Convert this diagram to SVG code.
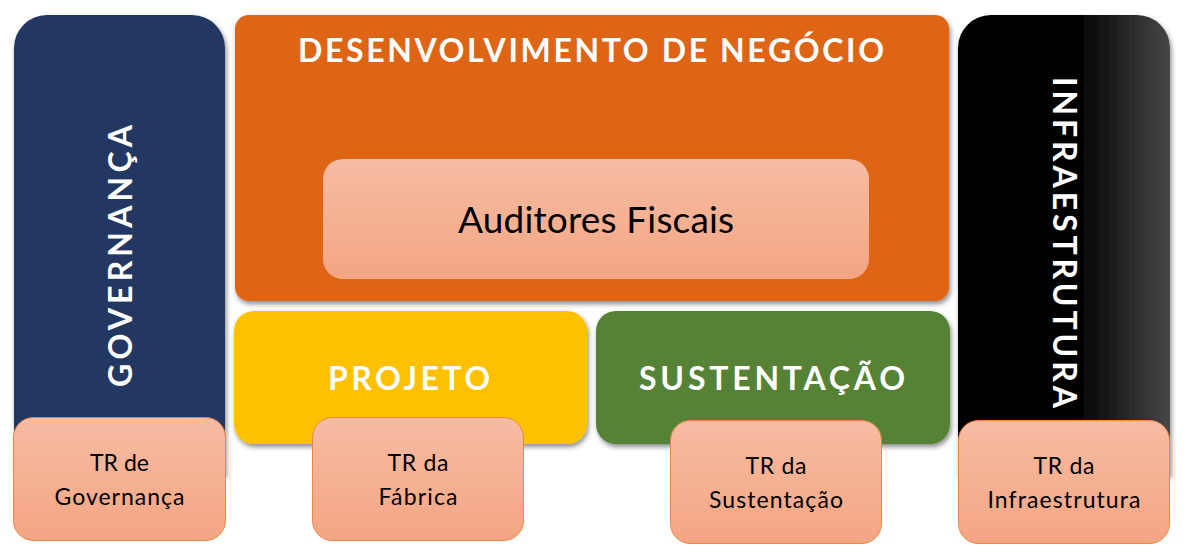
<svg xmlns="http://www.w3.org/2000/svg" width="1189" height="559" viewBox="0 0 1189 559">
<defs>
  <filter id="sh" x="-10%" y="-10%" width="120%" height="125%">
    <feDropShadow dx="1.5" dy="3" stdDeviation="2.5" flood-color="#000" flood-opacity="0.45"/>
  </filter>
  <linearGradient id="peach" x1="0" y1="0" x2="0" y2="1">
    <stop offset="0" stop-color="#F6BCA3"/>
    <stop offset="1" stop-color="#F4A583"/>
  </linearGradient>
  <linearGradient id="infra" x1="0" y1="0" x2="1" y2="0">
    <stop offset="0" stop-color="#000"/>
    <stop offset="0.55" stop-color="#000"/>
    <stop offset="1" stop-color="#474747"/>
  </linearGradient>
  <style>
    .cap{font-family:Lato,"Liberation Sans",sans-serif;font-weight:bold;font-size:32px;fill:#fff}
    .tr{font-family:Lato,"Liberation Sans",sans-serif;font-size:23px;fill:#000;text-anchor:middle}
    .trbox{fill:url(#peach);stroke:#EE8640;stroke-width:1}
  </style>
</defs>

<g id="governanca">
  <path d="M14,48 A33,33 0 0 1 47,15 L192,15 A33,33 0 0 1 225,48 L225,475 L14,475 Z" fill="#203864" filter="url(#sh)"/>
  <text class="cap" transform="translate(132,387) rotate(-90)" textLength="262" lengthAdjust="spacing">GOVERNANÇA</text>
</g>

<g id="desenvolvimento">
  <rect x="235" y="15" width="714" height="286" rx="14" fill="#DF6514" filter="url(#sh)"/>
  <text class="cap" x="298" y="62" textLength="586" lengthAdjust="spacing">DESENVOLVIMENTO DE NEGÓCIO</text>
</g>

<g id="auditores">
  <rect x="323" y="159" width="546" height="120" rx="20" fill="url(#peach)"/>
  <text x="458" y="233" font-family="Lato,'Liberation Sans',sans-serif" font-size="37" fill="#000" textLength="276" lengthAdjust="spacing">Auditores Fiscais</text>
</g>

<g id="infraestrutura">
  <path d="M958,48 A33,33 0 0 1 991,15 L1137,15 A33,33 0 0 1 1170,48 L1170,475 L958,475 Z" fill="url(#infra)" filter="url(#sh)"/>
  <text class="cap" transform="translate(1053,77) rotate(90)" textLength="331" lengthAdjust="spacing">INFRAESTRUTURA</text>
</g>

<g id="projeto">
  <rect x="234" y="311" width="353" height="133" rx="20" fill="#FFC000" filter="url(#sh)"/>
  <text class="cap" x="328" y="390" textLength="162" lengthAdjust="spacing">PROJETO</text>
</g>

<g id="sustentacao">
  <rect x="596" y="311" width="354" height="133" rx="20" fill="#548235" filter="url(#sh)"/>
  <text class="cap" x="639" y="390" textLength="266" lengthAdjust="spacing">SUSTENTAÇÃO</text>
</g>

<g id="tr-governanca">
  <rect class="trbox" x="13.5" y="417.5" width="212" height="123" rx="20"/>
  <text class="tr" x="119.5" y="471" textLength="59" lengthAdjust="spacing">TR de</text>
  <text class="tr" x="119.5" y="505" textLength="130" lengthAdjust="spacing">Governança</text>
</g>

<g id="tr-fabrica">
  <rect class="trbox" x="312.5" y="417.5" width="211" height="123" rx="20"/>
  <text class="tr" x="418" y="471" textLength="61" lengthAdjust="spacing">TR da</text>
  <text class="tr" x="418" y="505" textLength="79" lengthAdjust="spacing">Fábrica</text>
</g>

<g id="tr-sustentacao">
  <rect class="trbox" x="670.5" y="420.5" width="211" height="123" rx="20"/>
  <text class="tr" x="776" y="474" textLength="61" lengthAdjust="spacing">TR da</text>
  <text class="tr" x="776" y="508" textLength="134" lengthAdjust="spacing">Sustentação</text>
</g>

<g id="tr-infraestrutura">
  <rect class="trbox" x="958.5" y="420.5" width="211" height="123" rx="20"/>
  <text class="tr" x="1064" y="474" textLength="61" lengthAdjust="spacing">TR da</text>
  <text class="tr" x="1064" y="508" textLength="153" lengthAdjust="spacing">Infraestrutura</text>
</g>

<g id="connectors"/>
</svg>
